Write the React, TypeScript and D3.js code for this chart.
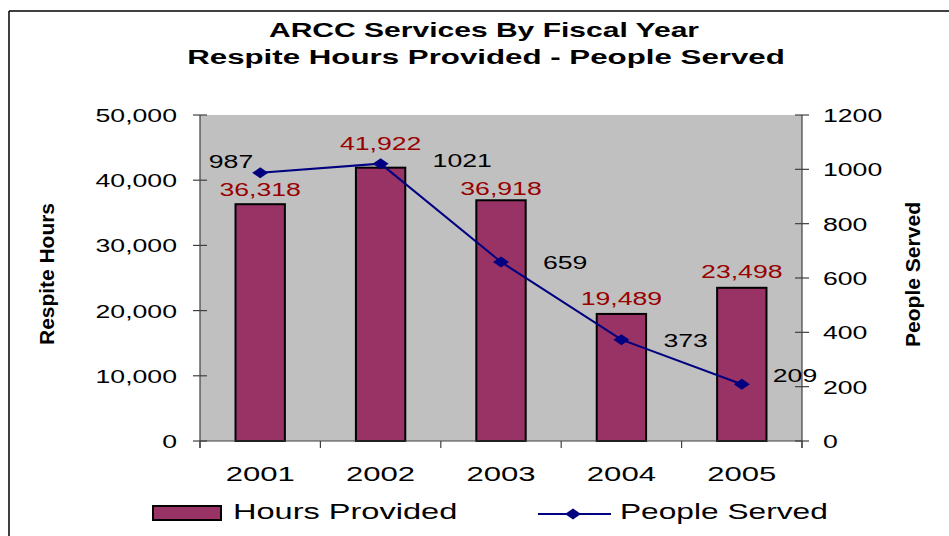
import React from "react";
import * as d3 from "d3";

const years = ["2001", "2002", "2003", "2004", "2005"];
const hoursProvided = [36318, 41922, 36918, 19489, 23498];
const peopleServed = [987, 1021, 659, 373, 209];
const leftTicks = [0, 10000, 20000, 30000, 40000, 50000];
const rightTicks = [0, 200, 400, 600, 800, 1000, 1200];
const titleLines = ["ARCC Services By Fiscal Year", "Respite Hours Provided - People Served"];

// label placement nudges (px) — not data
const barLabelLift = [8, 18, 5, 9, 10];
const lineLabelNudge: [number, number, string][] = [
  [-7, -5, "end"],
  [52, 3, "start"],
  [42, 7, "start"],
  [42, 7, "start"],
  [31, -2, "start"],
];

const FONT = "'Liberation Sans', Arial, Helvetica, sans-serif";
const SX = 1.48;

function ST(props: { x: number; y: number; size: number; anchor?: string; bold?: boolean; fill?: string; sx?: number; children: React.ReactNode }) {
  const { x, y, size, anchor = "start", bold = false, fill = "#000", sx = SX, children } = props;
  return (
    <text
      transform={`translate(${x},${y}) scale(${sx},1)`}
      textAnchor={anchor as any}
      fontFamily={FONT}
      fontSize={size}
      fontWeight={bold ? "bold" : "normal"}
      fill={fill}
    >
      {children}
    </text>
  );
}

export default function App() {
  const W = 949, H = 536;
  const left = 200, right = 802, top = 115, bottom = 441;
  const x = d3.scaleBand<string>().domain(years).range([left, right]).padding(0);
  const yL = d3.scaleLinear().domain([0, 50000]).range([bottom, top]);
  const yR = d3.scaleLinear().domain([0, 1200]).range([bottom, top]);
  const bw = x.bandwidth() * 0.41;
  const cx = (d: string) => (x(d) as number) + x.bandwidth() / 2;
  const fmt = d3.format(",");
  const linePath = d3
    .line<number>()
    .x((_, i) => cx(years[i]))
    .y((v) => yR(v))(peopleServed) as string;
  const diamond = (px: number, py: number, w = 8, h = 5.5) =>
    `M${px - w},${py}L${px},${py - h}L${px + w},${py}L${px},${py + h}Z`;
  const boundaries = [...years.map((d) => x(d) as number), right];

  return (
    <svg width={W} height={H} style={{ position: "absolute", left: 0, top: 0, display: "block", background: "#fff" }}>
      {/* border */}
      <line x1={9} y1={11} x2={W} y2={11} stroke="#000" strokeWidth={1.5} />
      <line x1={9} y1={11} x2={9} y2={H} stroke="#000" strokeWidth={1.5} />

      {/* title */}
      <ST x={484} y={37} size={21} bold anchor="middle" sx={1.43}>{titleLines[0]}</ST>
      <ST x={486} y={64} size={21} bold anchor="middle" sx={1.49}>{titleLines[1]}</ST>

      {/* plot area */}
      <rect x={left} y={top} width={right - left} height={bottom - top} fill="#C0C0C0" />

      {/* bars */}
      {years.map((d, i) => (
        <rect
          key={d}
          x={cx(d) - bw / 2}
          y={yL(hoursProvided[i])}
          width={bw}
          height={bottom - yL(hoursProvided[i])}
          fill="#993366"
          stroke="#000"
          strokeWidth={2}
        />
      ))}

      {/* axes */}
      <line x1={left} y1={top} x2={left} y2={bottom + 7} stroke="#404040" strokeWidth={1.2} />
      <line x1={right} y1={top} x2={right} y2={bottom + 7} stroke="#404040" strokeWidth={1.2} />
      <line x1={left} y1={bottom} x2={right} y2={bottom} stroke="#404040" strokeWidth={1.2} />
      {leftTicks.map((t) => (
        <g key={"l" + t}>
          <line x1={left - 7} x2={left + 7} y1={yL(t)} y2={yL(t)} stroke="#404040" strokeWidth={1.2} />
          <ST x={177} y={yL(t) + 7} size={18} anchor="end">{fmt(t)}</ST>
        </g>
      ))}
      {rightTicks.map((t) => (
        <g key={"r" + t}>
          <line x1={right - 7} x2={right + 7} y1={yR(t)} y2={yR(t)} stroke="#404040" strokeWidth={1.2} />
          <ST x={823} y={yR(t) + 7} size={18} anchor="start">{String(t)}</ST>
        </g>
      ))}
      {boundaries.map((b, i) => (
        <line key={"b" + i} x1={b} x2={b} y1={bottom} y2={bottom + 7} stroke="#404040" strokeWidth={1.2} />
      ))}
      {years.map((d) => (
        <ST key={"x" + d} x={cx(d)} y={481} size={21} anchor="middle">{d}</ST>
      ))}

      {/* line series */}
      <path d={linePath} fill="none" stroke="#000080" strokeWidth={2} />
      {peopleServed.map((v, i) => (
        <path key={"m" + i} d={diamond(cx(years[i]), yR(v))} fill="#000080" />
      ))}

      {/* bar labels */}
      {years.map((d, i) => (
        <ST key={"bl" + d} x={cx(d)} y={yL(hoursProvided[i]) - barLabelLift[i]} size={18} anchor="middle" fill="#990000">
          {fmt(hoursProvided[i])}
        </ST>
      ))}
      {/* line labels */}
      {peopleServed.map((v, i) => (
        <ST
          key={"ll" + i}
          x={cx(years[i]) + lineLabelNudge[i][0]}
          y={yR(v) + lineLabelNudge[i][1]}
          size={18}
          anchor={lineLabelNudge[i][2]}
        >
          {String(v)}
        </ST>
      ))}

      {/* axis titles */}
      <text
        transform="translate(54,274) rotate(-90)"
        textAnchor="middle"
        fontFamily={FONT}
        fontWeight="bold"
        fontSize={20}
        textLength={142}
        lengthAdjust="spacingAndGlyphs"
      >
        Respite Hours
      </text>
      <text
        transform="translate(920,274.5) rotate(-90)"
        textAnchor="middle"
        fontFamily={FONT}
        fontWeight="bold"
        fontSize={20}
        textLength={145}
        lengthAdjust="spacingAndGlyphs"
      >
        People Served
      </text>

      {/* legend */}
      <rect x={153} y={506} width={68} height={14} fill="#993366" stroke="#000" strokeWidth={2} />
      <ST x={233} y={519} size={22} anchor="start">Hours Provided</ST>
      <line x1={538} x2={611} y1={514} y2={514} stroke="#000080" strokeWidth={2} />
      <path d={diamond(573, 514)} fill="#000080" />
      <ST x={620} y={519} size={22} anchor="start" sx={1.44}>People Served</ST>
    </svg>
  );
}
